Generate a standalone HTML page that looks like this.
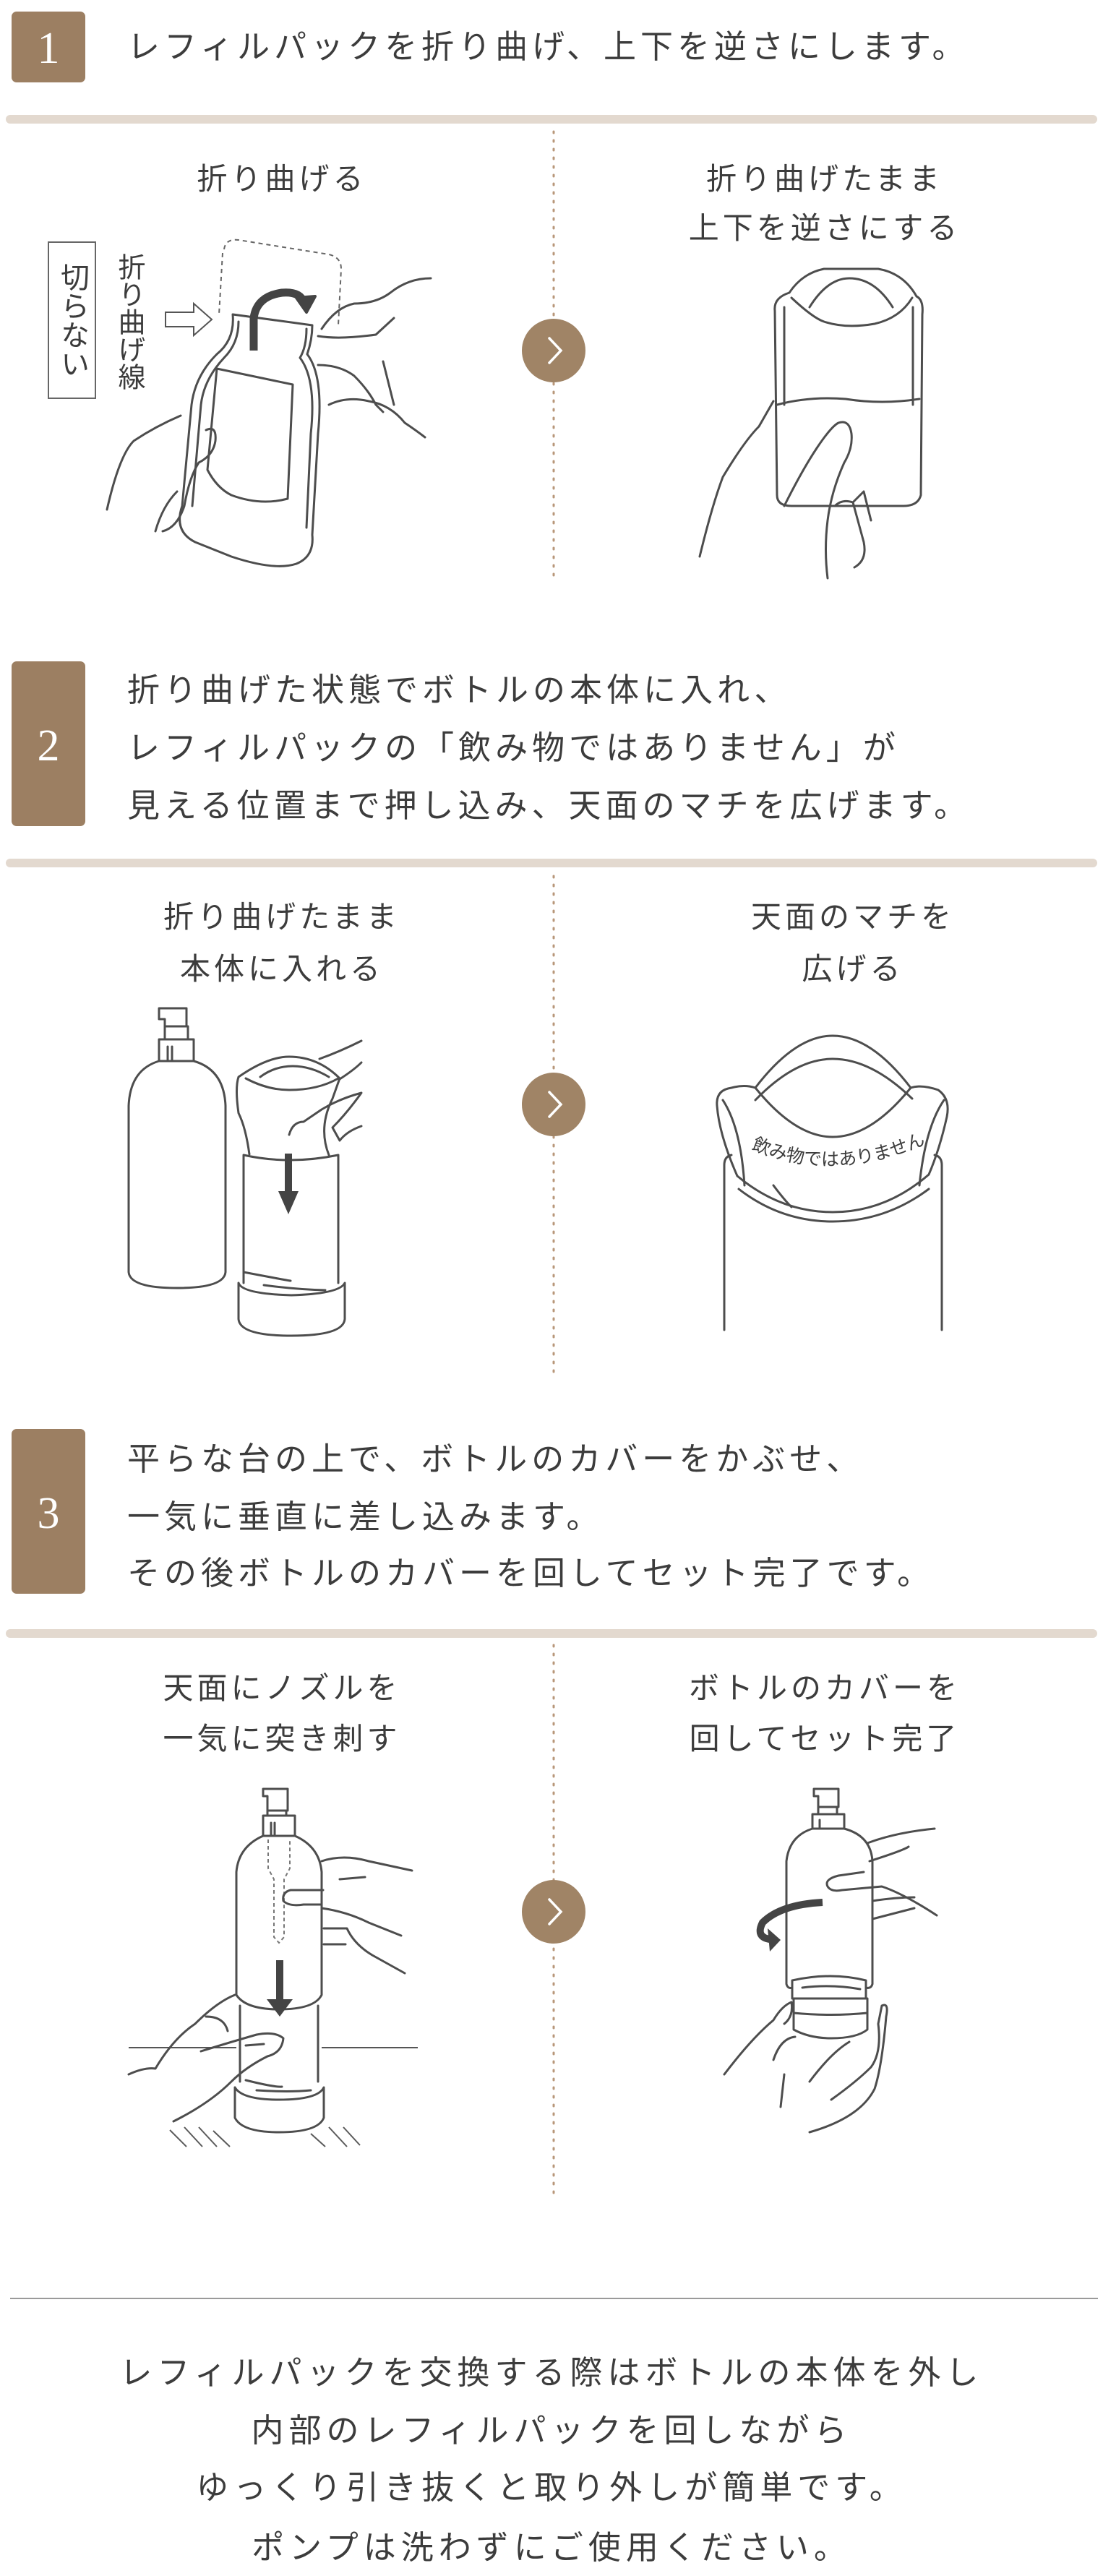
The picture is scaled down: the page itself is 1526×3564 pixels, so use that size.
<!DOCTYPE html>
<html><head><meta charset="utf-8"><style>
html,body{margin:0;padding:0;background:#fff}
svg{display:block}
text{font-family:"Liberation Sans","Noto Sans CJK JP",sans-serif;fill:#3c3c3c}
.num{font-family:"Liberation Serif",serif;fill:#fff;font-size:62px}
.st{font-size:45px;letter-spacing:6px}
.lb{font-size:42px;letter-spacing:5px}
.ln{fill:none;stroke:#4d4d4d;stroke-width:3;stroke-linecap:round;stroke-linejoin:round}
.th{fill:none;stroke:#5a5a5a;stroke-width:2}
</style></head><body>
<svg width="1526" height="3564" viewBox="0 0 1526 3564" xmlns="http://www.w3.org/2000/svg">
<!-- ===== Step 1 ===== -->
<rect x="16" y="16" width="102" height="98" rx="7" fill="#9c7f62"/>
<text class="num" x="67" y="87" text-anchor="middle">1</text>
<text class="st" x="176" y="80">レフィルパックを折り曲げ、上下を逆さにします。</text>
<line x1="14" y1="165" x2="1512" y2="165" stroke="#e3d9cf" stroke-width="12" stroke-linecap="round"/>
<line x1="766" y1="182" x2="766" y2="805" stroke="#b8977a" stroke-width="3" stroke-dasharray="2 10" stroke-linecap="round"/>
<circle cx="766" cy="485" r="44" fill="#a08466"/>
<path d="M760 468 L776 485 L760 502" fill="none" stroke="#fff" stroke-width="3.5" stroke-linecap="round"/>
<text class="lb" x="390" y="262" text-anchor="middle">折り曲げる</text>
<text class="lb" x="1141" y="262" text-anchor="middle">折り曲げたまま</text>
<text class="lb" x="1141" y="330" text-anchor="middle">上下を逆さにする</text>
<!-- cut label box -->
<rect x="67" y="335" width="65" height="216" fill="#fff" stroke="#666" stroke-width="2"/>
<text x="100" y="443" font-size="40" text-anchor="middle" style="writing-mode:vertical-rl">切らない</text>
<text x="178" y="445" font-size="38" text-anchor="middle" style="writing-mode:vertical-rl">折り曲げ線</text>
<!-- dashed pouch top -->
<path d="M310 345 Q312 330 330 332 L455 352 Q472 356 472 372 L468 450" fill="none" stroke="#666" stroke-width="2" stroke-dasharray="6 5"/>
<path d="M308 350 L303 435" fill="none" stroke="#666" stroke-width="2" stroke-dasharray="6 5"/>
<!-- hollow arrow -->
<path d="M229 432 L268 432 L268 420 L293 442 L268 464 L268 452 L229 452 Z" fill="#fff" stroke="#555" stroke-width="2"/>
<!-- pouch -->
<path class="ln" d="M322 435 L432 450 M322 435 Q325 470 300 490 Q270 520 265 560 L252 700 Q240 735 270 750 L320 770 Q380 790 410 780 Q435 770 432 740 L440 600 Q448 520 425 490 Q432 470 432 450"/>
<path class="ln" d="M330 445 Q330 475 310 495 Q282 525 278 560 L266 700" />
<path class="ln" d="M424 455 Q424 480 415 495 Q438 525 430 600 L424 730"/>
<path class="ln" d="M300 510 L405 532 L398 690 Q360 700 320 685 Q300 675 287 650 Z"/>
<!-- curved arrow -->
<path d="M351 485 L351 440 Q355 410 390 405 Q415 403 420 418" fill="none" stroke="#444" stroke-width="11"/>
<path d="M410 412 L436 410 L424 432 Z" fill="#444" stroke="#444" stroke-width="4" stroke-linejoin="round"/>
<!-- right hand step1 left -->
<path class="ln" d="M596 385 Q565 385 540 405 Q520 420 490 420 Q465 425 445 455 M440 465 Q470 470 520 463 L545 440 M440 505 Q470 505 490 520 Q510 540 520 560 L530 570 M455 560 Q480 548 510 555 Q540 560 560 585 Q575 595 588 605 M530 500 L545 560"/>
<!-- left hand step1 -->
<path class="ln" d="M148 705 Q165 630 185 610 Q215 590 250 575 M285 595 Q300 588 298 610 Q295 630 275 640 Q262 660 255 700 Q245 730 225 735 M215 735 Q225 700 245 680"/>
<!-- step1 right pouch inverted -->
<path class="ln" d="M1072 430 Q1070 412 1092 405 Q1110 378 1140 372 L1215 372 Q1250 378 1268 410 Q1278 415 1276 435 L1274 685 Q1270 700 1250 700 L1095 700 Q1075 700 1075 685 Z"/>
<path class="ln" d="M1085 425 L1085 560 M1263 425 L1263 560"/>
<path class="ln" d="M1095 412 Q1125 440 1140 445 Q1170 455 1210 448 Q1245 440 1262 412 M1120 425 Q1145 385 1175 385 Q1210 385 1235 425"/>
<path class="ln" d="M1075 560 Q1120 548 1170 552 Q1220 560 1272 552"/>
<!-- hand step1 right -->
<path class="ln" d="M968 770 Q985 700 1000 660 Q1030 610 1050 590 L1070 555 M1085 700 Q1110 650 1130 620 Q1150 590 1160 585 Q1175 580 1178 600 Q1180 620 1168 640 Q1150 680 1145 720 Q1140 760 1145 800 M1155 700 Q1165 690 1180 695 L1195 750 Q1200 775 1182 785 M1180 695 L1195 680 L1205 720"/>
<!-- ===== Step 2 ===== -->
<rect x="16" y="915" width="102" height="228" rx="7" fill="#9c7f62"/>
<text class="num" x="67" y="1052" text-anchor="middle">2</text>
<text class="st" x="176" y="970">折り曲げた状態でボトルの本体に入れ、</text>
<text class="st" x="176" y="1050">レフィルパックの「飲み物ではありません」が</text>
<text class="st" x="176" y="1130">見える位置まで押し込み、天面のマチを広げます。</text>
<line x1="14" y1="1194" x2="1512" y2="1194" stroke="#e3d9cf" stroke-width="12" stroke-linecap="round"/>
<line x1="766" y1="1212" x2="766" y2="1902" stroke="#b8977a" stroke-width="3" stroke-dasharray="2 10" stroke-linecap="round"/>
<circle cx="766" cy="1528" r="44" fill="#a08466"/>
<path d="M760 1511 L776 1528 L760 1545" fill="none" stroke="#fff" stroke-width="3.5" stroke-linecap="round"/>
<text class="lb" x="390" y="1283" text-anchor="middle">折り曲げたまま</text>
<text class="lb" x="390" y="1355" text-anchor="middle">本体に入れる</text>
<text class="lb" x="1180" y="1283" text-anchor="middle">天面のマチを</text>
<text class="lb" x="1180" y="1355" text-anchor="middle">広げる</text>
<!-- bottle -->
<path class="ln" d="M220 1395 L258 1395 L258 1420 L228 1420 L228 1410 L220 1410 Z M228 1420 L228 1438 L260 1438 L260 1420"/>
<path class="ln" d="M220 1438 L268 1438 L268 1468 L220 1468 Z M232 1448 L232 1468 M238 1448 L238 1468"/>
<path class="ln" d="M220 1468 Q180 1480 178 1530 L178 1760 Q180 1782 245 1782 Q310 1782 312 1760 L312 1530 Q310 1480 268 1468"/>
<!-- cylinder -->
<path class="ln" d="M337 1598 L337 1775 M468 1598 L468 1775 M337 1598 Q400 1612 468 1598"/>
<path class="ln" d="M337 1760 Q400 1772 402 1772 M365 1778 Q410 1784 450 1785"/>
<path class="ln" d="M330 1775 L330 1825 Q332 1848 403 1848 Q475 1848 477 1825 L477 1775 Q470 1790 403 1792 Q335 1790 330 1775"/>
<path class="ln" d="M345 1597 Q340 1560 330 1540 Q325 1505 330 1490 Q370 1462 400 1462 Q440 1462 470 1492 L460 1520 Q440 1560 455 1598"/>
<path class="ln" d="M340 1492 Q370 1508 400 1508 Q440 1508 468 1492 M360 1490 Q380 1475 405 1475 Q430 1475 455 1490"/>
<path class="ln" d="M442 1465 Q470 1455 500 1440 M470 1493 Q490 1480 500 1470 M400 1570 Q405 1552 420 1552 L445 1535 Q470 1520 500 1512 Q480 1540 460 1560 L470 1578 Q480 1565 500 1558"/>
<path d="M399 1596 L399 1650" stroke="#444" stroke-width="10"/>
<path d="M385 1648 L413 1648 L399 1680 Z" fill="#444"/>
<!-- step2 right -->
<path class="ln" d="M1002 1840 L1002 1612 Q1002 1600 1012 1598 M1303 1840 L1303 1612 Q1303 1600 1293 1598"/>
<path class="ln" d="M1022 1645 Q1080 1690 1152 1690 Q1225 1690 1285 1645"/>
<path class="ln" d="M1020 1627 Q1080 1677 1152 1677 Q1225 1677 1285 1625 M1020 1627 Q995 1570 992 1530 Q990 1508 1012 1505 Q1030 1500 1045 1505 Q1100 1433 1152 1433 Q1205 1433 1260 1505 Q1275 1500 1298 1508 Q1315 1520 1310 1545 Q1300 1590 1285 1625"/>
<path class="ln" d="M1045 1505 Q1100 1573 1152 1573 Q1205 1573 1260 1505 M1045 1522 Q1100 1465 1152 1465 Q1205 1465 1262 1520"/>
<path class="ln" d="M1000 1522 Q1025 1560 1030 1640 M1306 1522 Q1280 1560 1272 1640 M1070 1640 Q1085 1660 1095 1670"/>
<path id="tp" d="M1030 1585 Q1145 1640 1275 1585" fill="none"/>
<text font-size="25"><textPath href="#tp" startOffset="4%">飲み物ではありません</textPath></text>
<!-- ===== Step 3 ===== -->
<rect x="16" y="1977" width="102" height="228" rx="7" fill="#9c7f62"/>
<text class="num" x="67" y="2114" text-anchor="middle">3</text>
<text class="st" x="176" y="2034">平らな台の上で、ボトルのカバーをかぶせ、</text>
<text class="st" x="176" y="2114">一気に垂直に差し込みます。</text>
<text class="st" x="176" y="2192">その後ボトルのカバーを回してセット完了です。</text>
<line x1="14" y1="2260" x2="1512" y2="2260" stroke="#e3d9cf" stroke-width="12" stroke-linecap="round"/>
<line x1="766" y1="2276" x2="766" y2="3035" stroke="#b8977a" stroke-width="3" stroke-dasharray="2 10" stroke-linecap="round"/>
<circle cx="766" cy="2645" r="44" fill="#a08466"/>
<path d="M760 2628 L776 2645 L760 2662" fill="none" stroke="#fff" stroke-width="3.5" stroke-linecap="round"/>
<text class="lb" x="390" y="2350" text-anchor="middle">天面にノズルを</text>
<text class="lb" x="390" y="2420" text-anchor="middle">一気に突き刺す</text>
<text class="lb" x="1141" y="2350" text-anchor="middle">ボトルのカバーを</text>
<text class="lb" x="1141" y="2420" text-anchor="middle">回してセット完了</text>
<!-- step3 left -->
<path class="ln" d="M364 2475 L398 2475 L398 2505 L370 2505 L370 2485 L364 2485 Z M370 2505 L370 2512 M396 2505 L396 2512"/>
<path class="ln" d="M364 2512 L408 2512 L408 2540 L364 2540 Z M375 2522 L375 2540 M380 2522 L380 2540"/>
<path class="ln" d="M364 2540 Q330 2555 327 2590 L327 2760 Q340 2780 386 2780 Q435 2780 445 2760 L445 2590 Q442 2555 408 2540"/>
<path d="M371 2545 L371 2585 L379 2600 L379 2680 L386 2688 L393 2680 L393 2600 L401 2585 L401 2545" fill="none" stroke="#777" stroke-width="2" stroke-dasharray="5 4"/>
<path class="ln" d="M332 2775 L332 2880 M440 2775 L440 2880 M340 2878 Q380 2888 390 2887 M355 2892 Q400 2895 430 2892"/>
<path class="ln" d="M325 2888 L325 2930 Q335 2950 386 2950 Q440 2950 448 2930 L448 2888 Q440 2905 386 2905 Q335 2905 325 2888"/>
<line x1="178" y1="2833" x2="327" y2="2833" stroke="#555" stroke-width="2"/>
<line x1="445" y1="2833" x2="578" y2="2833" stroke="#555" stroke-width="2"/>
<path class="th" d="M235 2947 L258 2970 M255 2943 L280 2970 M275 2943 L300 2970 M295 2948 L318 2970 M430 2952 L450 2970 M455 2943 L480 2970 M475 2943 L498 2968"/>
<path d="M387 2712 L387 2770" stroke="#444" stroke-width="10"/>
<path d="M369 2766 L405 2766 L387 2790 Z" fill="#444"/>
<path class="ln" d="M445 2575 Q475 2565 510 2575 L570 2588 M470 2600 L505 2597 M447 2615 L402 2615 Q390 2618 392 2630 Q400 2638 420 2635 L445 2635 M445 2640 Q480 2645 510 2660 L555 2678 M448 2668 L480 2668 Q490 2690 515 2705 L560 2730 M448 2690 L478 2690"/>
<path class="ln" d="M178 2870 Q200 2860 215 2862 Q240 2820 270 2800 Q300 2770 325 2760 M285 2790 Q310 2790 315 2810 M278 2838 Q320 2825 355 2815 Q380 2810 392 2820 Q390 2840 370 2845 Q340 2860 320 2880 Q290 2910 240 2935 M340 2830 L365 2828"/>
<!-- step3 right -->
<path class="ln" d="M1126 2475 L1160 2475 L1160 2500 L1132 2500 L1132 2485 L1126 2485 Z M1132 2500 L1132 2510 M1158 2500 L1158 2510"/>
<path class="ln" d="M1124 2510 L1168 2510 L1168 2530 L1124 2530 Z M1134 2518 L1134 2530"/>
<path class="ln" d="M1124 2530 Q1092 2540 1088 2575 L1088 2745 Q1090 2752 1096 2750 M1168 2530 Q1205 2540 1207 2575 L1207 2745 Q1205 2752 1198 2750"/>
<path class="ln" d="M1096 2740 L1096 2765 L1198 2765 L1198 2740 Q1150 2728 1096 2740 M1110 2750 Q1150 2745 1190 2752"/>
<path class="ln" d="M1098 2765 L1098 2808 Q1120 2820 1150 2820 Q1185 2820 1200 2808 L1200 2765 M1098 2785 Q1150 2790 1200 2785"/>
<path class="ln" d="M1200 2550 Q1240 2535 1293 2530 M1203 2575 Q1250 2560 1257 2555 M1195 2590 L1160 2595 Q1140 2600 1145 2610 Q1150 2618 1165 2615 L1220 2610 Q1250 2620 1296 2650 M1207 2630 Q1240 2625 1265 2625 M1207 2655 L1265 2640"/>
<path class="ln" d="M1002 2870 Q1040 2820 1070 2795 Q1082 2775 1095 2770 Q1098 2790 1085 2800 M1070 2850 Q1080 2820 1100 2818 M1120 2880 Q1150 2840 1175 2825 M1150 2905 Q1185 2880 1205 2860 Q1220 2840 1215 2800 L1220 2775 Q1230 2770 1226 2790 Q1220 2860 1210 2890 Q1190 2930 1120 2950 M1080 2915 L1085 2870"/>
<path d="M1138 2632 Q1080 2635 1055 2660 Q1045 2680 1065 2683" fill="none" stroke="#444" stroke-width="10"/>
<path d="M1062 2668 L1080 2684 L1065 2700 Z" fill="#444"/>
<!-- bottom -->
<line x1="14" y1="3180" x2="1519" y2="3180" stroke="#9a9a9a" stroke-width="2"/>
<text class="st" x="763" y="3298" text-anchor="middle" style="letter-spacing:7px">レフィルパックを交換する際はボトルの本体を外し</text>
<text class="st" x="763" y="3378" text-anchor="middle" style="letter-spacing:7px">内部のレフィルパックを回しながら</text>
<text class="st" x="763" y="3457" text-anchor="middle" style="letter-spacing:7px">ゆっくり引き抜くと取り外しが簡単です。</text>
<text class="st" x="763" y="3540" text-anchor="middle" style="letter-spacing:7px">ポンプは洗わずにご使用ください。</text>
</svg>
</body></html>
